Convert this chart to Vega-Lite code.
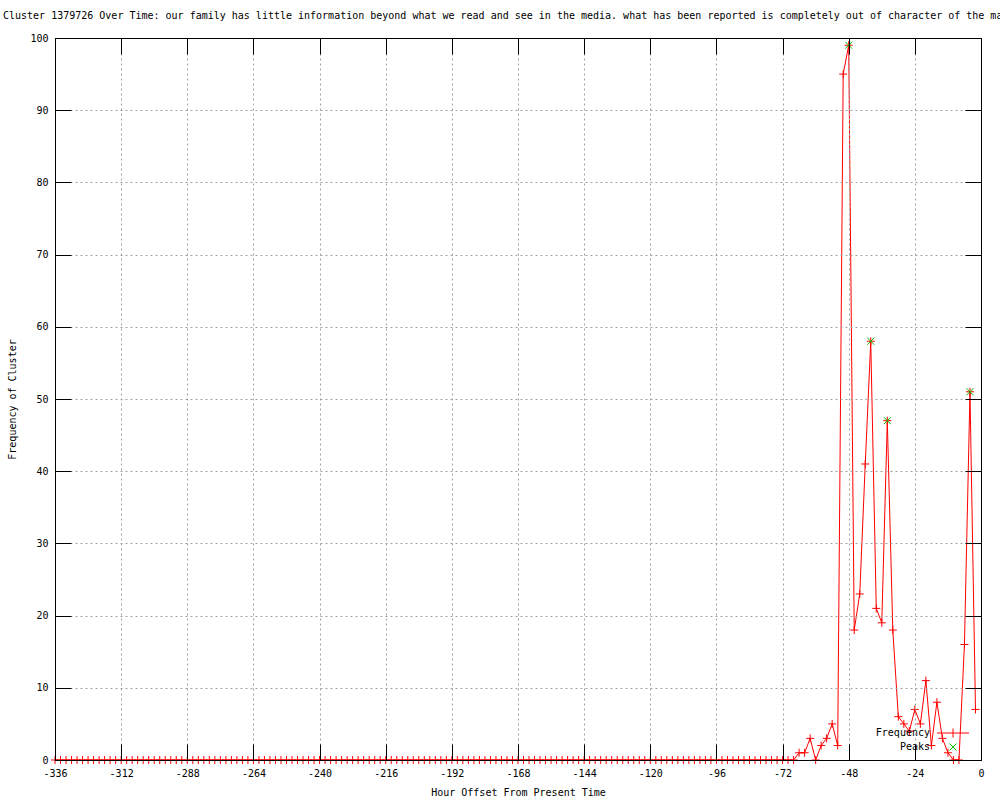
{
  "$schema": "https://vega.github.io/schema/vega-lite/v6.json",
  "width": 926,
  "height": 722,
  "autosize": "none",
  "padding": {"left": 55, "top": 38, "right": 19, "bottom": 40},
  "background": "white",
  "config": {"view": {"stroke": null}, "font": "DejaVu Sans Mono"},
  "title": {
    "text": "Cluster 1379726 Over Time: our family has little information beyond what we read and see in the media. what has been reported is completely out of character of the man",
    "anchor": "start", "frame": "group", "dx": -52, "offset": 12,
    "font": "DejaVu Sans Mono", "fontSize": 10, "fontWeight": "normal", "color": "#000"
  },
  "datasets": {
    "freq": [
      {"h":-336,"f":0},{"h":-334,"f":0},{"h":-332,"f":0},{"h":-330,"f":0},{"h":-328,"f":0},{"h":-326,"f":0},{"h":-324,"f":0},{"h":-322,"f":0},{"h":-320,"f":0},{"h":-318,"f":0},{"h":-316,"f":0},{"h":-314,"f":0},
      {"h":-312,"f":0},{"h":-310,"f":0},{"h":-308,"f":0},{"h":-306,"f":0},{"h":-304,"f":0},{"h":-302,"f":0},{"h":-300,"f":0},{"h":-298,"f":0},{"h":-296,"f":0},{"h":-294,"f":0},{"h":-292,"f":0},{"h":-290,"f":0},
      {"h":-288,"f":0},{"h":-286,"f":0},{"h":-284,"f":0},{"h":-282,"f":0},{"h":-280,"f":0},{"h":-278,"f":0},{"h":-276,"f":0},{"h":-274,"f":0},{"h":-272,"f":0},{"h":-270,"f":0},{"h":-268,"f":0},{"h":-266,"f":0},
      {"h":-264,"f":0},{"h":-262,"f":0},{"h":-260,"f":0},{"h":-258,"f":0},{"h":-256,"f":0},{"h":-254,"f":0},{"h":-252,"f":0},{"h":-250,"f":0},{"h":-248,"f":0},{"h":-246,"f":0},{"h":-244,"f":0},{"h":-242,"f":0},
      {"h":-240,"f":0},{"h":-238,"f":0},{"h":-236,"f":0},{"h":-234,"f":0},{"h":-232,"f":0},{"h":-230,"f":0},{"h":-228,"f":0},{"h":-226,"f":0},{"h":-224,"f":0},{"h":-222,"f":0},{"h":-220,"f":0},{"h":-218,"f":0},
      {"h":-216,"f":0},{"h":-214,"f":0},{"h":-212,"f":0},{"h":-210,"f":0},{"h":-208,"f":0},{"h":-206,"f":0},{"h":-204,"f":0},{"h":-202,"f":0},{"h":-200,"f":0},{"h":-198,"f":0},{"h":-196,"f":0},{"h":-194,"f":0},
      {"h":-192,"f":0},{"h":-190,"f":0},{"h":-188,"f":0},{"h":-186,"f":0},{"h":-184,"f":0},{"h":-182,"f":0},{"h":-180,"f":0},{"h":-178,"f":0},{"h":-176,"f":0},{"h":-174,"f":0},{"h":-172,"f":0},{"h":-170,"f":0},
      {"h":-168,"f":0},{"h":-166,"f":0},{"h":-164,"f":0},{"h":-162,"f":0},{"h":-160,"f":0},{"h":-158,"f":0},{"h":-156,"f":0},{"h":-154,"f":0},{"h":-152,"f":0},{"h":-150,"f":0},{"h":-148,"f":0},{"h":-146,"f":0},
      {"h":-144,"f":0},{"h":-142,"f":0},{"h":-140,"f":0},{"h":-138,"f":0},{"h":-136,"f":0},{"h":-134,"f":0},{"h":-132,"f":0},{"h":-130,"f":0},{"h":-128,"f":0},{"h":-126,"f":0},{"h":-124,"f":0},{"h":-122,"f":0},
      {"h":-120,"f":0},{"h":-118,"f":0},{"h":-116,"f":0},{"h":-114,"f":0},{"h":-112,"f":0},{"h":-110,"f":0},{"h":-108,"f":0},{"h":-106,"f":0},{"h":-104,"f":0},{"h":-102,"f":0},{"h":-100,"f":0},{"h":-98,"f":0},
      {"h":-96,"f":0},{"h":-94,"f":0},{"h":-92,"f":0},{"h":-90,"f":0},{"h":-88,"f":0},{"h":-86,"f":0},{"h":-84,"f":0},{"h":-82,"f":0},{"h":-80,"f":0},{"h":-78,"f":0},{"h":-76,"f":0},{"h":-74,"f":0},
      {"h":-72,"f":0},{"h":-70,"f":0},{"h":-68,"f":0},{"h":-66,"f":1},{"h":-64,"f":1},{"h":-62,"f":3},{"h":-60,"f":0},{"h":-58,"f":2},{"h":-56,"f":3},{"h":-54,"f":5},{"h":-52,"f":2},{"h":-50,"f":95},
      {"h":-48,"f":99},{"h":-46,"f":18},{"h":-44,"f":23},{"h":-42,"f":41},{"h":-40,"f":58},{"h":-38,"f":21},{"h":-36,"f":19},{"h":-34,"f":47},{"h":-32,"f":18},{"h":-30,"f":6},{"h":-28,"f":5},{"h":-26,"f":4},
      {"h":-24,"f":7},{"h":-22,"f":5},{"h":-20,"f":11},{"h":-18,"f":2},{"h":-16,"f":8},{"h":-14,"f":3},{"h":-12,"f":1},{"h":-10,"f":0},{"h":-8,"f":0},{"h":-6,"f":16},{"h":-4,"f":51},{"h":-2,"f":7}
    ],
    "peaks": [
      {"h":-48,"f":99},{"h":-40,"f":58},{"h":-34,"f":47},{"h":-4,"f":51}
    ]
  },
  "layer": [
    {
      "data": {"name": "freq"},
      "mark": {"type": "line", "strokeWidth": 1, "interpolate": "linear"},
      "encoding": {
        "x": {"field": "h", "type": "quantitative",
          "scale": {"domain": [-336, 0], "nice": false, "zero": false},
          "axis": {
            "values": [-336,-312,-288,-264,-240,-216,-192,-168,-144,-120,-96,-72,-48,-24,0],
            "labelExpr": "'' + datum.value",
            "grid": true, "gridColor": "#a0a0a0", "gridDash": [2,3], "gridWidth": 1,
            "tickSize": -16, "tickColor": "#000", "tickWidth": 1,
            "domain": true, "domainColor": "#000", "domainWidth": 1,
            "labelPadding": 24, "labelFont": "DejaVu Sans Mono", "labelFontSize": 10, "labelColor": "#000",
            "labelFlush": false, "labelOverlap": false,
            "title": "Hour Offset From Present Time", "titleFont": "DejaVu Sans Mono", "titleFontSize": 10,
            "titleFontWeight": "normal", "titleColor": "#000", "titlePadding": 9, "zindex": 1
          }
        },
        "y": {"field": "f", "type": "quantitative",
          "scale": {"domain": [0, 100], "nice": false, "zero": false},
          "axis": {
            "values": [0,10,20,30,40,50,60,70,80,90,100],
            "grid": true, "gridColor": "#a0a0a0", "gridDash": [2,3], "gridWidth": 1,
            "tickSize": -16, "tickColor": "#000", "tickWidth": 1,
            "domain": true, "domainColor": "#000", "domainWidth": 1,
            "labelPadding": 23, "labelFont": "DejaVu Sans Mono", "labelFontSize": 10, "labelColor": "#000",
            "labelFlush": false, "labelOverlap": false,
            "title": "Frequency of Cluster", "titleFont": "DejaVu Sans Mono", "titleFontSize": 10,
            "titleFontWeight": "normal", "titleColor": "#000", "titlePadding": 12, "zindex": 1
          }
        },
        "color": {"datum": "Frequency", "type": "nominal",
          "scale": {"domain": ["Frequency", "Peaks"], "range": ["#ff0000", "#00c000"]},
          "legend": {
            "title": null, "orient": "none", "legendX": 893, "legendY": 690,
            "labelFont": "DejaVu Sans Mono", "labelFontSize": 10, "labelColor": "#000",
            "labelAlign": "right", "labelOffset": -28, "labelExpr": "datum.label == 'Peaks' ? '\u00a0\u00a0\u00a0\u00a0Peaks' : datum.label",
            "symbolSize": 81, "symbolStrokeWidth": 1, "rowPadding": 1, "padding": 0,
            "encode": {"symbols": {"update": {
              "shape": {"signal": "datum.value == 'Peaks' ? 'M-0.78,-0.78L0.78,0.78M-0.78,0.78L0.78,-0.78' : 'M-3.56,0L3.56,0M0,-1L0,1'"},
              "stroke": {"signal": "datum.value == 'Peaks' ? '#00c000' : '#ff0000'"},
              "fill": {"value": "transparent"},
              "strokeWidth": {"value": 1},
              "size": {"value": 81},
              "opacity": {"value": 1}
            }}}
          }
        }
      }
    },
    {
      "data": {"name": "freq"},
      "mark": {"type": "point", "shape": "M-1,0L1,0M0,-1L0,1", "filled": false, "size": 64, "strokeWidth": 1, "opacity": 1},
      "encoding": {
        "x": {"field": "h", "type": "quantitative", "axis": null},
        "y": {"field": "f", "type": "quantitative", "axis": null},
        "color": {"datum": "Frequency", "type": "nominal"}
      }
    },
    {
      "data": {"name": "peaks"},
      "mark": {"type": "point", "shape": "M-1,-1L1,1M-1,1L1,-1", "filled": false, "size": 49, "strokeWidth": 1, "opacity": 1},
      "encoding": {
        "x": {"field": "h", "type": "quantitative",
          "axis": {"orient": "top", "values": [-336,-312,-288,-264,-240,-216,-192,-168,-144,-120,-96,-72,-48,-24,0],
            "labels": false, "grid": false, "tickSize": -16, "tickColor": "#000", "domain": true, "domainColor": "#000", "title": null, "zindex": 1}
        },
        "y": {"field": "f", "type": "quantitative",
          "axis": {"orient": "right", "values": [0,10,20,30,40,50,60,70,80,90,100],
            "labels": false, "grid": false, "tickSize": -16, "tickColor": "#000", "domain": true, "domainColor": "#000", "title": null, "zindex": 1}
        },
        "color": {"datum": "Peaks", "type": "nominal"}
      }
    }
  ],
  "resolve": {"axis": {"x": "independent", "y": "independent"}}
}
